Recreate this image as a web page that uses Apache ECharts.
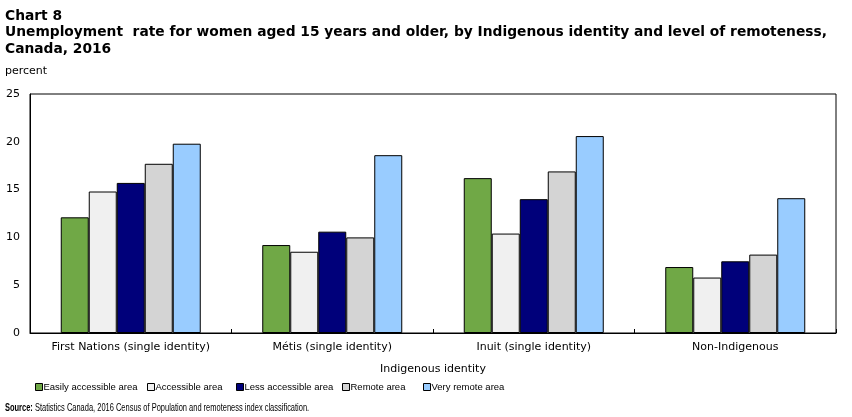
<!DOCTYPE html>
<html><head><meta charset="utf-8">
<script src="https://cdn.jsdelivr.net/npm/echarts@6/dist/echarts.min.js"></script>
<style>html,body{margin:0;padding:0;background:#fff}#c{width:852px;height:417px}</style>
</head><body><div id="c"></div>
<script>
const categories = ["First Nations (single identity)", "Métis (single identity)", "Inuit (single identity)", "Non-Indigenous"];
const seriesNames = ["Easily accessible area", "Accessible area", "Less accessible area", "Remote area", "Very remote area"];
const easilyAccessible = [12.1, 9.2, 16.2, 6.9];
const accessible = [14.8, 8.5, 10.4, 5.8];
const lessAccessible = [15.7, 10.6, 14.0, 7.5];
const remote = [17.7, 10.0, 16.9, 8.2];
const veryRemote = [19.8, 18.6, 20.6, 14.1];
const yTicks = [0, 5, 10, 15, 20, 25];
const colors = ["#70A846", "#F0F0F0", "#00007A", "#D4D4D4", "#99CCFF"];
const allValues = [easilyAccessible, accessible, lessAccessible, remote, veryRemote];
const legendLefts = [35, 147, 236, 342, 423];
const sourceText = "Statistics Canada, 2016 Census of Population and remoteness index classification.";

const font = "DejaVu Sans";
const small = "Liberation Sans";
const chart = echarts.init(document.getElementById('c'), null, {renderer: 'canvas'});
chart.setOption({
  animation: false,
  title: [
    {text: "Chart 8\nUnemployment  rate for women aged 15 years and older, by Indigenous identity and level of remoteness,\nCanada, 2016",
     left: 5, top: 8, padding: 0, textStyle: {fontFamily: font, fontSize: 13.8, fontWeight: 'bold', color: '#000', lineHeight: 16.5}},
    {text: "percent", left: 5, top: 66, padding: 0, textStyle: {fontFamily: font, fontSize: 11, fontWeight: 'normal', color: '#000'}}
  ],
  graphic: [{
    type: 'text', left: 5, top: 402, scaleX: 0.65,
    style: {text: "{b|Source:} " + sourceText, fontFamily: small, fontSize: 11.5, fill: '#000',
      rich: {b: {fontFamily: small, fontSize: 11.5, fontWeight: 'bold', fill: '#000'}}}
  }],
  legend: seriesNames.map((n, i) => ({
    data: [n], left: legendLefts[i], top: 382, padding: 0, itemWidth: 7, itemHeight: 7,
    icon: 'rect',
    textStyle: {fontFamily: small, fontSize: 9.5, color: '#000', padding: [0, 0, 0, -4]},
    itemStyle: {borderColor: '#000', borderWidth: 1}
  })),
  grid: {left: 30, right: 16, top: 94, bottom: 84, show: true, borderColor: '#000', borderWidth: 1, containLabel: false},
  xAxis: {
    type: 'category', data: categories,
    name: 'Indigenous identity', nameLocation: 'middle', nameGap: 31,
    nameTextStyle: {fontFamily: font, fontSize: 11, color: '#000'},
    axisLine: {lineStyle: {color: '#000', width: 1}},
    axisTick: {show: true, inside: true, length: 4, lineStyle: {color: '#000'}},
    axisLabel: {fontFamily: font, fontSize: 11, color: '#000', margin: 9, interval: 0}
  },
  yAxis: {
    type: 'value', min: 0, max: 25, interval: 5,
    axisLine: {show: true, lineStyle: {color: '#000'}},
    axisTick: {show: false},
    splitLine: {show: false},
    axisLabel: {fontFamily: font, fontSize: 11, color: '#000', margin: 10,
      formatter: v => yTicks.includes(v) ? String(v) : ''}
  },
  series: seriesNames.map((n, i) => ({
    name: n, type: 'bar', data: allValues[i], barWidth: 28, barGap: '0%',
    itemStyle: {color: colors[i], borderColor: '#000', borderWidth: 1}
  }))
});
</script></body></html>
